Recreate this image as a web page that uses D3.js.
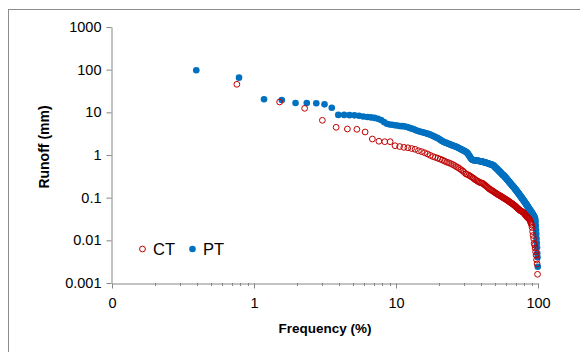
<!DOCTYPE html>
<html><head><meta charset="utf-8">
<script src="https://cdn.jsdelivr.net/npm/d3@7"></script>
<style>body{margin:0;background:#fff;}svg{display:block;font-family:"Liberation Sans",Arial,sans-serif;}</style>
</head><body><svg id="c" width="580" height="352"></svg>
<script>
// Runoff (mm) ranked from largest to smallest; frequency = rank/(n+1)*100 (Weibull plotting position)
const ptRunoff = [
97,65,20.2,19.5,16.5,16.5,16.3,15.4,12.8,8.7,
8.7,8.6,8.5,8.3,8.0,7.8,7.6,7.4,7.1,6.6,
5.9,5.4,5.2,5.1,5.0,4.9,4.8,4.75,4.7,4.6,
4.45,4.3,4.15,4.0,3.85,3.7,3.6,3.5,3.42,3.35,
3.28,3.2,3.12,3.05,2.95,2.85,2.75,2.66,2.58,2.5,
2.4,2.3,2.2,2.12,2.05,2.0,1.95,1.9,1.86,1.82,
1.78,1.74,1.70,1.67,1.64,1.61,1.58,1.55,1.52,1.48,
1.44,1.40,1.37,1.34,1.31,1.28,1.25,1.22,1.19,1.16,
1.12,1.06,1.0,0.94,0.88,0.83,0.79,0.77,0.76,0.755,
0.75,0.75,0.745,0.74,0.74,0.735,0.73,0.725,0.72,0.715,
0.71,0.705,0.70,0.695,0.69,0.68,0.675,0.67,0.665,0.66,
0.65,0.645,0.64,0.63,0.625,0.62,0.61,0.605,0.60,0.595,
0.59,0.585,0.58,0.565,0.55,0.537,0.523,0.51,0.497,0.485,
0.473,0.461,0.45,0.439,0.428,0.418,0.407,0.397,0.387,0.378,
0.368,0.359,0.35,0.345,0.34,0.332,0.324,0.316,0.308,0.30,
0.293,0.286,0.279,0.272,0.265,0.259,0.252,0.246,0.24,0.234,
0.228,0.222,0.217,0.211,0.206,0.201,0.196,0.192,0.188,0.184,
0.18,0.176,0.172,0.168,0.164,0.16,0.156,0.152,0.149,0.145,
0.142,0.138,0.135,0.132,0.129,0.126,0.123,0.12,0.117,0.114,
0.111,0.109,0.106,0.104,0.101,0.099,0.096,0.094,0.092,0.09,
0.088,0.086,0.084,0.082,0.08,0.078,0.076,0.075,0.073,0.071,
0.07,0.068,0.066,0.065,0.063,0.062,0.06,0.059,0.057,0.056,
0.055,0.053,0.052,0.051,0.05,0.049,0.048,0.047,0.046,0.045,
0.044,0.043,0.042,0.041,0.04,0.039,0.038,0.037,0.036,0.035,
0.034,0.0335,0.033,0.03,0.027,0.022,0.0175,0.014,0.011,0.0087,
0.0068,0.005,0.004,0.0024];
const ctRunoff = [
45.4,17.5,12.4,6.5,4.46,4.07,4.0,3.46,2.37,2.1,
2.05,2.05,1.65,1.58,1.51,1.48,1.42,1.36,1.26,1.2,
1.13,1.06,0.98,0.92,0.88,0.84,0.8,0.76,0.72,0.68,
0.66,0.63,0.60,0.57,0.535,0.51,0.48,0.45,0.42,0.39,
0.36,0.35,0.335,0.32,0.305,0.29,0.275,0.26,0.25,0.24,
0.23,0.225,0.22,0.215,0.205,0.195,0.186,0.177,0.168,0.16,
0.155,0.15,0.145,0.14,0.135,0.13,0.126,0.122,0.118,0.115,
0.112,0.109,0.106,0.103,0.1,0.097,0.095,0.092,0.09,0.088,
0.085,0.083,0.08,0.078,0.076,0.074,0.072,0.07,0.068,0.066,
0.064,0.062,0.06,0.058,0.056,0.054,0.053,0.051,0.05,0.049,
0.048,0.047,0.046,0.045,0.044,0.042,0.04,0.039,0.037,0.036,
0.035,0.034,0.033,0.032,0.031,0.029,0.027,0.025,0.023,0.02,
0.016,0.013,0.011,0.0085,0.0078,0.0066,0.0054,0.0045,0.0035,0.0028,0.0016];
const xTickValues = [0.1, 1, 10, 100];
const xTickLabels = ["0", "1", "10", "100"];
const yTickValues = [0.001, 0.01, 0.1, 1, 10, 100, 1000];
const yTickLabels = ["0.001", "0.01", "0.1", "1", "10", "100", "1000"];
const seriesNames = ["CT", "PT"];

const toPoints = arr => arr.map((v, i) => ({f: (i + 1) / (arr.length + 1) * 100, v}));
const pt = toPoints(ptRunoff), ct = toPoints(ctRunoff);

const svg = d3.select("#c");
const L = 112, R = 538, T = 27, B = 283;
const x = d3.scaleLog().domain([0.1, 100]).range([L, R]);
const y = d3.scaleLog().domain([0.001, 1000]).range([B, T]);
const axisCol = "#868686";
const ctCol = "#C00000", ptCol = "#0070C0";

svg.append("rect").attr("x", 8.5).attr("y", 9.5).attr("width", 620).attr("height", 400)
  .attr("fill", "none").attr("stroke", "#8c8c8c").attr("stroke-width", 1);

// minor x ticks
const minor = [];
for (let d = 0.1; d < 100; d *= 10) for (let k = 2; k <= 9; k++) minor.push(d * k);
svg.append("g").selectAll("line").data(minor).join("line")
  .attr("x1", d => Math.round(x(d)) + 0.5).attr("x2", d => Math.round(x(d)) + 0.5)
  .attr("y1", B).attr("y2", B + 3).attr("stroke", axisCol);

const xAxis = svg.append("g").attr("transform", `translate(0,${B + 0.5})`)
  .call(d3.axisBottom(x).tickValues(xTickValues).tickSize(5).tickSizeOuter(0)
    .tickFormat((d, i) => xTickLabels[i]));
xAxis.select(".domain").attr("stroke", axisCol);
xAxis.selectAll(".tick line").attr("stroke", axisCol);
xAxis.selectAll("text").attr("font-size", 14.5).attr("fill", "#000").attr("dy", "1.12em")
  .attr("font-family", "Liberation Sans, Arial, sans-serif");

const yAxis = svg.append("g").attr("transform", `translate(${L - 0.5},0)`)
  .call(d3.axisLeft(y).tickValues(yTickValues).tickSize(5).tickSizeOuter(0)
    .tickFormat((d, i) => yTickLabels[i]));
yAxis.select(".domain").attr("stroke", axisCol);
yAxis.selectAll(".tick line").attr("stroke", axisCol);
yAxis.selectAll("text").attr("font-size", 14.5).attr("fill", "#000").attr("x", -10)
  .attr("font-family", "Liberation Sans, Arial, sans-serif");

// points
svg.append("g").selectAll("circle").data(pt).join("circle")
  .attr("cx", d => x(d.f)).attr("cy", d => y(d.v)).attr("r", 3.3).attr("fill", ptCol);
svg.append("g").selectAll("circle").data(ct).join("circle")
  .attr("cx", d => x(d.f)).attr("cy", d => y(d.v)).attr("r", 2.9)
  .attr("fill", "none").attr("stroke", ctCol).attr("stroke-width", 1);

// titles
svg.append("text").attr("x", (L + R) / 2).attr("y", 333).attr("text-anchor", "middle")
  .attr("font-weight", "bold").attr("font-size", 13.5).text("Frequency (%)");
svg.append("text").attr("transform", "translate(49,147) rotate(-90)").attr("text-anchor", "middle")
  .attr("font-weight", "bold").attr("font-size", 14).text("Runoff (mm)");

// legend
const lg = svg.append("g");
lg.append("circle").attr("cx", 142.5).attr("cy", 249).attr("r", 2.9)
  .attr("fill", "none").attr("stroke", ctCol).attr("stroke-width", 1);
lg.append("text").attr("x", 153).attr("y", 255).attr("font-size", 16.5).text(seriesNames[0]);
lg.append("circle").attr("cx", 192.5).attr("cy", 249).attr("r", 3.3).attr("fill", ptCol);
lg.append("text").attr("x", 203).attr("y", 255).attr("font-size", 16.5).text(seriesNames[1]);
</script></body></html>
